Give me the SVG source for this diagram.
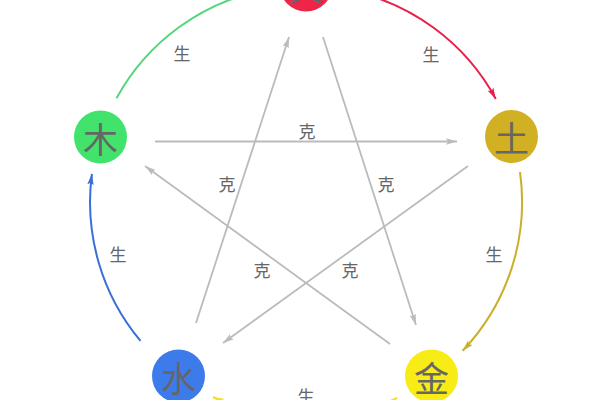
<svg xmlns="http://www.w3.org/2000/svg" width="600" height="400" viewBox="0 0 600 400">
<style>
.bg{fill:#ffffff}
.node text{font-family:"Noto Sans CJK SC","Noto Sans",sans-serif;font-size:35px;fill:#666666;text-anchor:middle;dominant-baseline:central}
.lbl{font-family:"Noto Sans CJK SC","Noto Sans",sans-serif;font-size:17px;fill:#666666;text-anchor:middle;dominant-baseline:central}
.ke{stroke:#bbbbbb;stroke-width:1.8;fill:none;marker-end:url(#ag)}
.arc{fill:none;stroke-width:2}
</style>
<defs>
<marker id="ag" markerUnits="userSpaceOnUse" markerWidth="12" markerHeight="8" refX="11" refY="4" orient="auto"><path d="M0,0.8 L11,4 L0,7.2 L2,4 z" fill="#bbbbbb"/></marker>
<marker id="ar" markerUnits="userSpaceOnUse" markerWidth="12" markerHeight="8" refX="11" refY="4" orient="auto"><path d="M0,0.8 L11,4 L0,7.2 L2,4 z" fill="#e8204a"/></marker>
<marker id="agr" markerUnits="userSpaceOnUse" markerWidth="12" markerHeight="8" refX="11" refY="4" orient="auto"><path d="M0,0.8 L11,4 L0,7.2 L2,4 z" fill="#55d57a"/></marker>
<marker id="ago" markerUnits="userSpaceOnUse" markerWidth="12" markerHeight="8" refX="11" refY="4" orient="auto"><path d="M0,0.8 L11,4 L0,7.2 L2,4 z" fill="#c9b02a"/></marker>
<marker id="ay" markerUnits="userSpaceOnUse" markerWidth="12" markerHeight="8" refX="11" refY="4" orient="auto"><path d="M0,0.8 L11,4 L0,7.2 L2,4 z" fill="#f0e020"/></marker>
<marker id="ab" markerUnits="userSpaceOnUse" markerWidth="12" markerHeight="8" refX="11" refY="4" orient="auto"><path d="M0,0.8 L11,4 L0,7.2 L2,4 z" fill="#3a6fd8"/></marker>
</defs>
<rect class="bg" x="0" y="0" width="600" height="400"/>
<g id="connectors">
<path class="arc" stroke="#55d57a" marker-end="url(#agr)" d="M116.5,98.3 A216,216 0 0 1 266.6,-10.4"/>
<path class="arc" stroke="#e8204a" marker-end="url(#ar)" d="M347.2,-10 A216,216 0 0 1 495.8,98.9"/>
<path class="arc" stroke="#c9b02a" marker-end="url(#ago)" d="M520,172 A216,216 0 0 1 462.7,350.7"/>
<path class="arc" stroke="#f0e020" marker-end="url(#ay)" d="M397.3,397.8 A216,216 0 0 1 213,397"/>
<path class="arc" stroke="#3a6fd8" marker-end="url(#ab)" d="M140.5,340.8 A216,216 0 0 1 91.9,173.8"/>
<line class="ke" x1="155" y1="141.5" x2="457" y2="141.5"/>
<line class="ke" x1="468" y1="166" x2="223" y2="343"/>
<line class="ke" x1="196" y1="323" x2="289" y2="37"/>
<line class="ke" x1="323" y1="37" x2="416" y2="325"/>
<line class="ke" x1="390" y1="344" x2="145" y2="166"/>
<text class="lbl" x="182" y="52">生</text>
<text class="lbl" x="431" y="53">生</text>
<text class="lbl" x="494" y="253">生</text>
<text class="lbl" x="306" y="395">生</text>
<text class="lbl" x="118" y="253">生</text>
<text class="lbl" x="307" y="130">克</text>
<text class="lbl" x="227" y="183">克</text>
<text class="lbl" x="386" y="183">克</text>
<text class="lbl" x="262" y="269">克</text>
<text class="lbl" x="350" y="269">克</text>
</g>
<g id="fire" class="node"><circle cx="306" cy="-15" r="26.5" fill="#ee2448"/><text x="306" y="-15">火</text></g>
<g id="earth" class="node"><circle cx="511.5" cy="136.5" r="26.5" fill="#d2b023"/><text x="511.5" y="136.5">土</text></g>
<g id="metal" class="node"><circle cx="431.5" cy="376" r="26.5" fill="#f7ec16"/><text x="431.5" y="376">金</text></g>
<g id="water" class="node"><circle cx="178.5" cy="376" r="26.5" fill="#3d7bea"/><text x="178.5" y="376">水</text></g>
<g id="wood" class="node"><circle cx="100.5" cy="137" r="26.5" fill="#42e36c"/><text x="100.5" y="137">木</text></g>
</svg>
